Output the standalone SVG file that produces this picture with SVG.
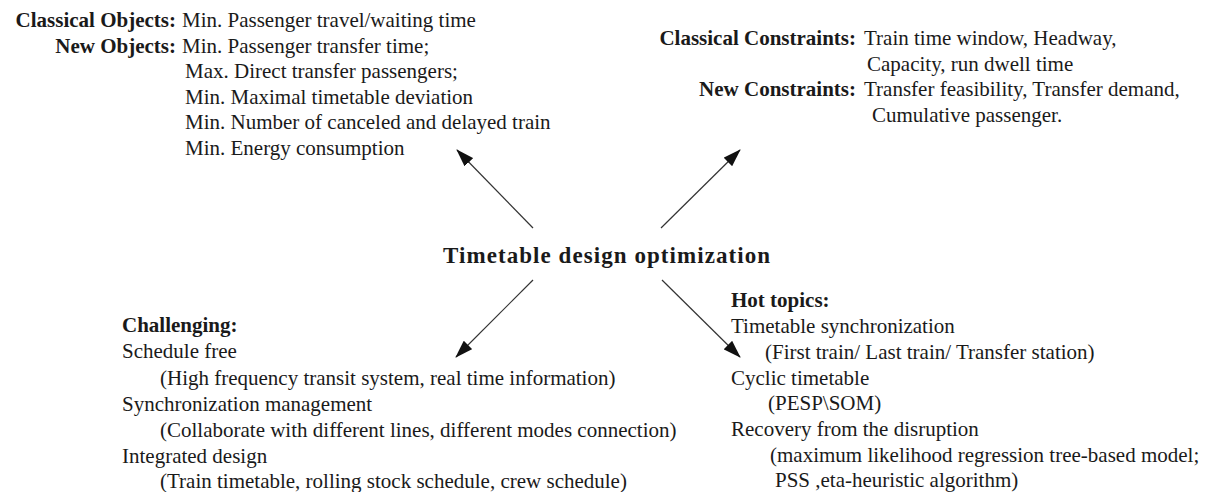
<svg xmlns="http://www.w3.org/2000/svg" width="1205" height="492" viewBox="0 0 1205 492">
  <style>
    text { font-family: "Liberation Serif", "Times New Roman", serif; font-size: 21px; fill: #1a1a1a; }
    .b { font-weight: bold; }
    .end { text-anchor: end; }
    .title { font-size: 23px; font-weight: bold; }
    .conn { stroke: #333; stroke-width: 1.2; fill: none; marker-end: url(#head); }
  </style>
  <defs>
    <marker id="head" markerUnits="userSpaceOnUse" markerWidth="18" markerHeight="12" viewBox="0 0 18 12" refX="17" refY="6" orient="auto">
      <path d="M0,0 L18,6 L0,12 Z" fill="#111"/>
    </marker>
  </defs>
  <rect width="1205" height="492" fill="#fff"/>

  <!-- central topic -->
  <g id="node-center">
    <text class="title" x="443" y="263" textLength="327" lengthAdjust="spacing">Timetable design optimization</text>
  </g>

  <!-- objectives -->
  <g id="node-objects">
    <text class="b end" x="176" y="27">Classical Objects:</text>
    <text x="182" y="27">Min. Passenger travel/waiting time</text>
    <text class="b end" x="176" y="52.5">New Objects:</text>
    <text x="182" y="52.5">Min. Passenger transfer time;</text>
    <text x="185" y="78">Max. Direct transfer passengers;</text>
    <text x="185" y="103.5">Min. Maximal timetable deviation</text>
    <text x="185" y="129">Min. Number of canceled and delayed train</text>
    <text x="185" y="154.5">Min. Energy consumption</text>
  </g>

  <!-- constraints -->
  <g id="node-constraints">
    <text class="b end" x="856" y="45">Classical Constraints:</text>
    <text x="864" y="45">Train time window, Headway,</text>
    <text x="867" y="70.5">Capacity, run dwell time</text>
    <text class="b end" x="856" y="96">New Constraints:</text>
    <text x="864" y="96">Transfer feasibility, Transfer demand,</text>
    <text x="872" y="121.5">Cumulative passenger.</text>
  </g>

  <!-- challenges -->
  <g id="node-challenging">
    <text class="b" x="122" y="332">Challenging:</text>
    <text x="122" y="358">Schedule free</text>
    <text x="160" y="384.5">(High frequency transit system, real time information)</text>
    <text x="122" y="410.5">Synchronization management</text>
    <text x="160" y="436.5">(Collaborate with different lines, different modes connection)</text>
    <text x="122" y="462.5">Integrated design</text>
    <text x="160" y="488">(Train timetable, rolling stock schedule, crew schedule)</text>
  </g>

  <!-- research hot topics -->
  <g id="node-hottopics">
    <text class="b" x="731" y="307">Hot topics:</text>
    <text x="731" y="333">Timetable synchronization</text>
    <text x="765" y="359">(First train/ Last train/ Transfer station)</text>
    <text x="731" y="384.5">Cyclic timetable</text>
    <text x="768" y="410">(PESP\SOM)</text>
    <text x="731" y="436">Recovery from the disruption</text>
    <text x="770" y="461.5">(maximum likelihood regression tree-based model;</text>
    <text x="775" y="487">PSS ,eta-heuristic algorithm)</text>
  </g>

  <!-- connectors from the central topic -->
  <g id="connectors">
    <line class="conn" x1="533" y1="228" x2="457" y2="150"/>
    <line class="conn" x1="661" y1="228" x2="740" y2="150"/>
    <line class="conn" x1="533" y1="280" x2="456" y2="357"/>
    <line class="conn" x1="662" y1="280" x2="740" y2="357"/>
  </g>
</svg>
